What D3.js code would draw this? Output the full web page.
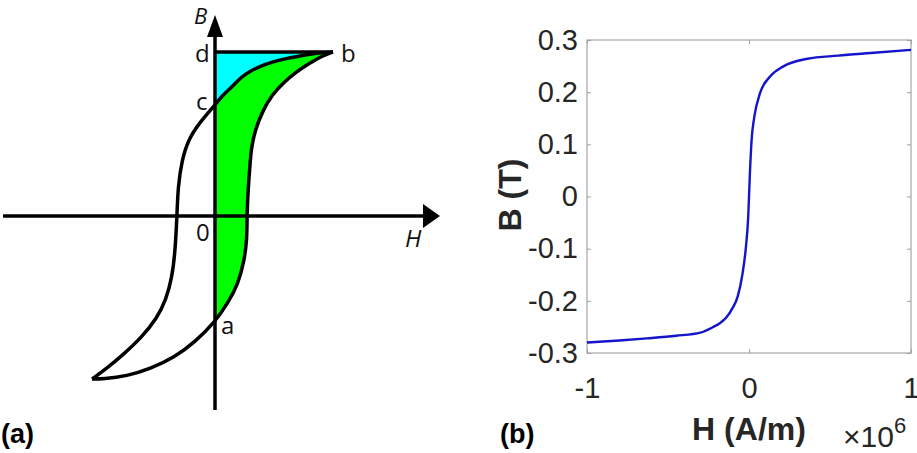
<!DOCTYPE html>
<html>
<head>
<meta charset="utf-8">
<script src="https://cdn.jsdelivr.net/npm/d3@7"></script>
<style>
  body { margin: 0; background: #fff; }
  svg { display: block; }
</style>
</head>
<body>
<div id="container"></div>
<script>
// ---- (a) schematic loop, traced points in loop units (H, B) ----
// descending branch, from b down to the negative tip
const descH = [1.0, 0.864, 0.72, 0.576, 0.424, 0.297, 0.212, 0.153, 0.059, 0, -0.127, -0.229, -0.28, -0.314, -0.322, -0.339, -0.364, -0.415, -0.492, -0.619, -0.771, -0.924, -1.042];
const descB = [1.0, 0.994, 0.976, 0.957, 0.927, 0.884, 0.841, 0.793, 0.732, 0.677, 0.573, 0.463, 0.341, 0.177, 0, -0.226, -0.372, -0.512, -0.622, -0.738, -0.841, -0.933, -0.994];
// ascending branch, from the negative tip up to b
const ascH = [-1.042, -0.949, -0.746, -0.551, -0.339, -0.169, 0, 0.11, 0.195, 0.246, 0.271, 0.271, 0.28, 0.297, 0.305, 0.339, 0.407, 0.483, 0.576, 0.686, 0.805, 0.907, 1.0];
const ascB = [-0.994, -0.994, -0.976, -0.933, -0.86, -0.768, -0.646, -0.53, -0.415, -0.28, -0.146, 0, 0.159, 0.311, 0.402, 0.524, 0.646, 0.738, 0.811, 0.878, 0.933, 0.976, 1.0];

// ---- (b) measured B-H curve ----
const fieldH = [-1, -0.8, -0.63, -0.45, -0.3, -0.22, -0.18, -0.14, -0.1, -0.07, -0.04, -0.02, -0.005, 0.005, 0.016, 0.033, 0.068, 0.13, 0.21, 0.36, 0.55, 0.75, 1];
const fluxB = [-0.280, -0.276, -0.272, -0.267, -0.261, -0.250, -0.243, -0.232, -0.213, -0.192, -0.148, -0.100, -0.040, 0.040, 0.108, 0.153, 0.198, 0.230, 0.249, 0.264, 0.270, 0.275, 0.281];
const xTicks = [-1, 0, 1];
const xTickLabels = ["-1", "0", "1"];
const yTicks = [-0.3, -0.2, -0.1, 0, 0.1, 0.2, 0.3];
const yTickLabels = ["-0.3", "-0.2", "-0.1", "0", "0.1", "0.2", "0.3"];

const W = 917, H = 453;
const svg = d3.select("#container").append("svg")
  .attr("width", W).attr("height", H);

// ================= panel (a) =================
const xL = d3.scaleLinear().domain([-1, 1]).range([97, 333]);
const yL = d3.scaleLinear().domain([-1, 1]).range([380, 52]);
const loopLine = d3.line()
  .x(d => xL(d[0])).y(d => yL(d[1]))
  .curve(d3.curveBasis);

const desc = descH.map((h, i) => [h, descB[i]]);
const asc = ascH.map((h, i) => [h, ascB[i]]);

const pa = svg.append("g");

pa.append("clipPath").attr("id", "rightHalf")
  .append("rect")
  .attr("x", xL(0)).attr("y", 0)
  .attr("width", xL(1) - xL(0) + 20).attr("height", H);

// green: inside the loop, right of the B axis
pa.append("path")
  .attr("d", loopLine(asc) + loopLine(desc).replace(/^M/, "L") + "Z")
  .attr("fill", "#00ff00")
  .attr("clip-path", "url(#rightHalf)");

// cyan: between the descending branch and the line d-b
pa.append("path")
  .attr("d", loopLine(desc) + "L" + xL(-1.1) + "," + yL(1) + "Z")
  .attr("fill", "#00ffff")
  .attr("clip-path", "url(#rightHalf)");

// loop outline
[desc, asc].forEach(branch => {
  pa.append("path").attr("d", loopLine(branch))
    .attr("fill", "none").attr("stroke", "#000")
    .attr("stroke-width", 3.5).attr("stroke-linejoin", "round");
});

// line d - b
pa.append("line")
  .attr("x1", xL(0)).attr("x2", xL(1))
  .attr("y1", yL(1)).attr("y2", yL(1))
  .attr("stroke", "#000").attr("stroke-width", 3.5);

// axes with arrows
const ox = xL(0), oy = yL(0);
pa.append("line")
  .attr("x1", 3).attr("x2", 426)
  .attr("y1", oy).attr("y2", oy)
  .attr("stroke", "#000").attr("stroke-width", 3.5);
pa.append("path")
  .attr("d", `M440,${oy}L423,${oy - 12}L423,${oy + 12}Z`)
  .attr("fill", "#000");
pa.append("line")
  .attr("x1", ox).attr("x2", ox)
  .attr("y1", 410).attr("y2", 34)
  .attr("stroke", "#000").attr("stroke-width", 3.5);
pa.append("path")
  .attr("d", `M${ox},15L${ox - 8},37L${ox + 8},37Z`)
  .attr("fill", "#000");

// labels
const lblFont = "'Open Sans', 'DejaVu Sans', sans-serif";
function lbl(txt, x, y, italic, size) {
  pa.append("text")
    .attr("x", x).attr("y", y)
    .attr("font-family", lblFont)
    .attr("font-size", size || 24)
    .attr("font-style", italic ? "italic" : "normal")
    .attr("fill", "#111")
    .text(txt);
}
lbl("B", ox - 21, 24, true, 22);
lbl("d", ox - 20, yL(1) + 10);
lbl("b", xL(1) + 8, yL(1) + 10);
lbl("c", ox - 19, yL(0.677) + 5);
lbl("0", ox - 19, oy + 25);
lbl("H", 405, oy + 31, true, 24);
lbl("a", ox + 6, yL(-0.646) + 12);

svg.append("text")
  .attr("x", 1).attr("y", 443)
  .attr("font-family", "Arial, 'Liberation Sans', sans-serif")
  .attr("font-weight", "bold").attr("font-size", 27)
  .text("(a)");

// ================= panel (b) =================
const x = d3.scaleLinear().domain([-1, 1]).range([587, 911]);
const y = d3.scaleLinear().domain([-0.3, 0.3]).range([353, 40]);
const pb = svg.append("g");
const numFont = "Arial, 'Liberation Sans', Helvetica, sans-serif";

pb.append("rect")
  .attr("x", x(-1)).attr("y", y(0.3))
  .attr("width", x(1) - x(-1)).attr("height", y(-0.3) - y(0.3))
  .attr("fill", "none").attr("stroke", "#a6a6a6").attr("stroke-width", 1.2);

const styleAxis = g => {
  g.select(".domain").remove();
  g.selectAll(".tick line").attr("stroke", "#a0a0a0");
  g.selectAll("text")
    .attr("font-family", numFont).attr("font-size", 29).attr("fill", "#262626");
};

pb.append("g").attr("transform", `translate(0,${y(-0.3)})`)
  .call(d3.axisBottom(x).tickValues(xTicks).tickFormat((d, i) => xTickLabels[i])
    .tickSize(-4).tickPadding(24))
  .call(styleAxis);
pb.append("g").attr("transform", `translate(0,${y(0.3)})`)
  .call(d3.axisTop(x).tickValues(xTicks).tickFormat("").tickSize(-4))
  .call(styleAxis);
pb.append("g").attr("transform", `translate(${x(-1)},0)`)
  .call(d3.axisLeft(y).tickValues(yTicks).tickFormat((d, i) => yTickLabels[i])
    .tickSize(-4).tickPadding(9))
  .call(styleAxis);
pb.append("g").attr("transform", `translate(${x(1)},0)`)
  .call(d3.axisRight(y).tickValues(yTicks).tickFormat("").tickSize(-4))
  .call(styleAxis);

const curve = fieldH.map((h, i) => [h, fluxB[i]]);
pb.append("path")
  .datum(curve)
  .attr("d", d3.line().x(d => x(d[0])).y(d => y(d[1])).curve(d3.curveMonotoneX))
  .attr("fill", "none").attr("stroke", "#1414cc").attr("stroke-width", 2.4);

pb.append("text")
  .attr("transform", "translate(521,195) rotate(-90)")
  .attr("text-anchor", "middle")
  .attr("font-family", numFont).attr("font-weight", "bold").attr("font-size", 32)
  .attr("fill", "#262626")
  .text("B (T)");

pb.append("text")
  .attr("x", 749).attr("y", 440)
  .attr("text-anchor", "middle")
  .attr("font-family", numFont).attr("font-weight", "bold").attr("font-size", 32)
  .attr("fill", "#262626")
  .text("H (A/m)");

const expo = pb.append("text")
  .attr("x", 843).attr("y", 447)
  .attr("font-family", numFont).attr("font-size", 30).attr("fill", "#262626");
expo.append("tspan").text("\u00d710");
expo.append("tspan").attr("dy", -14).attr("font-size", 22).text("6");

svg.append("text")
  .attr("x", 500).attr("y", 443)
  .attr("font-family", numFont)
  .attr("font-weight", "bold").attr("font-size", 27)
  .text("(b)");
</script>
</body>
</html>
